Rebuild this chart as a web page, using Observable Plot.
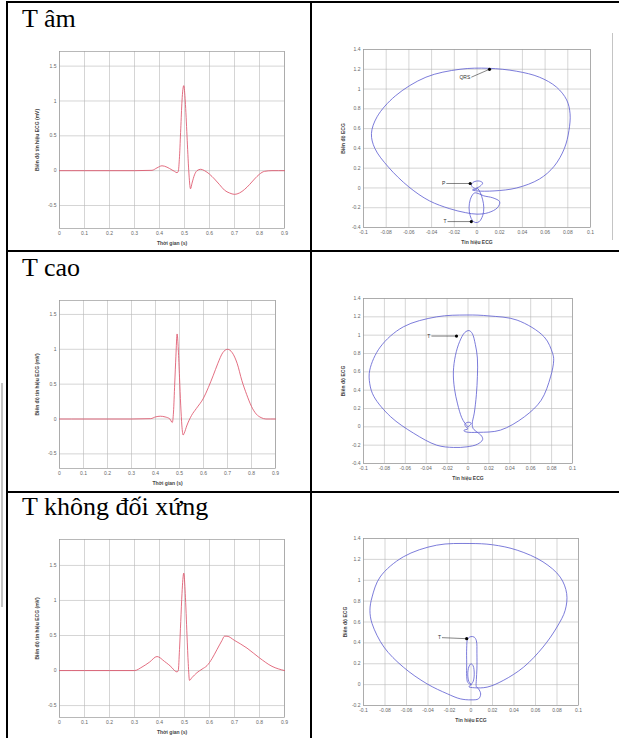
<!DOCTYPE html>
<html><head><meta charset="utf-8">
<script src="https://cdn.jsdelivr.net/npm/d3@7"></script>
<script src="https://cdn.jsdelivr.net/npm/@observablehq/plot@0.6"></script>
<style>
body{margin:0;background:#fff;}
#page{position:relative;width:619px;height:738px;overflow:hidden;background:#fff;}
.ln{position:absolute;background:#000;}
.gl{position:absolute;background:#c4c4c4;}
.lbl{position:absolute;font-family:"Liberation Serif","Times New Roman",serif;font-size:26px;line-height:26px;white-space:nowrap;color:#000;}
.ch{position:absolute;}
.ch svg{overflow:visible;}
.ch [aria-label="x-axis label"] text,.ch [aria-label="y-axis label"] text{font-weight:bold;fill:#444;}
</style></head><body><div id="page"></div>
<script>
// ---- section titles ----
const rowTitles = ["T âm", "T cao", "T không đối xứng"];

// ---- tick labels ----
const timeTicks = [0, 0.1, 0.2, 0.3, 0.4, 0.5, 0.6, 0.7, 0.8, 0.9];
const ecgTicks = [-0.5, 0, 0.5, 1, 1.5];
const slopeTicks = [-0.1, -0.08, -0.06, -0.04, -0.02, 0, 0.02, 0.04, 0.06, 0.08, 0.1];
const ampTicksA = [-0.4, -0.2, 0, 0.2, 0.4, 0.6, 0.8, 1, 1.2, 1.4];
const ampTicksB = [-0.2, 0, 0.2, 0.4, 0.6, 0.8, 1, 1.2, 1.4];

// ---- row 1: T âm (time series) ----
const amTime = [0,0.1,0.2,0.3,0.37,0.39,0.41,0.43,0.45,0.46,0.47,0.475,0.48,0.485,0.49,0.497,0.503,0.51,0.517,0.524,0.53,0.54,0.55,0.565,0.58,0.6,0.62,0.64,0.66,0.68,0.7,0.72,0.74,0.76,0.78,0.8,0.82,0.85,0.9];
const amEcg  = [0,0,0,0,0.005,0.04,0.07,0.05,0.01,-0.01,-0.03,-0.01,0.2,0.6,1.0,1.22,1.0,0.5,0.0,-0.26,-0.18,-0.06,0.0,0.02,0.0,-0.05,-0.12,-0.2,-0.28,-0.32,-0.34,-0.32,-0.27,-0.2,-0.12,-0.05,-0.01,0,0];
// ---- row 1: T âm (phase loop) ----
const amSlope = [0,0.003,0.005,0.002,-0.003,-0.005,-0.003,0,-0.004,0.0,0.015,0.035,0.055,0.068,0.077,0.081,0.082,0.079,0.07,0.055,0.035,0.01,-0.015,-0.045,-0.072,-0.088,-0.093,-0.09,-0.078,-0.06,-0.042,-0.024,-0.01,0.0,0.01,0.018,0.02,0.014,0.006,0.002,-0.002,-0.004,-0.006,-0.007,-0.006,-0.004,-0.001,0.002,0.005,0.006,0.005,0.003,0.001,0];
const amAmp   = [0,0.02,0.05,0.07,0.06,0.03,0.0,-0.01,-0.02,-0.03,-0.03,0.0,0.09,0.22,0.4,0.58,0.75,0.89,1.02,1.12,1.18,1.21,1.2,1.12,0.93,0.72,0.55,0.4,0.21,0.01,-0.13,-0.21,-0.25,-0.265,-0.25,-0.2,-0.14,-0.1,-0.08,-0.06,-0.05,-0.07,-0.12,-0.2,-0.28,-0.33,-0.35,-0.34,-0.28,-0.2,-0.12,-0.05,-0.01,0];
const amNoteLabel = ["QRS", "P", "T"];
const amNoteX = [-0.005, -0.027, -0.026];
const amNoteY = [1.12, 0.045, -0.34];
const amNoteToX = [0.011, -0.006, -0.005];
const amNoteToY = [1.2, 0.045, -0.34];

// ---- row 2: T cao ----
const caoTime = [0,0.1,0.2,0.3,0.38,0.4,0.42,0.44,0.46,0.47,0.475,0.48,0.485,0.49,0.495,0.5,0.505,0.51,0.515,0.52,0.53,0.55,0.57,0.6,0.62,0.64,0.66,0.68,0.7,0.72,0.74,0.76,0.78,0.8,0.82,0.84,0.86,0.9];
const caoEcg  = [0,0,0,0,0.005,0.03,0.04,0.03,0.0,-0.05,0.1,0.5,0.9,1.22,1.0,0.6,0.2,-0.1,-0.23,-0.2,-0.1,0.05,0.15,0.3,0.45,0.62,0.8,0.95,1.0,0.95,0.8,0.55,0.35,0.18,0.07,0.02,0,0];
const caoSlope = [0,0.002,0.003,0.0,-0.003,-0.002,0,-0.004,-0.002,0.01,0.031,0.054,0.07,0.079,0.082,0.081,0.073,0.047,0.02,-0.001,-0.03,-0.062,-0.084,-0.094,-0.094,-0.09,-0.074,-0.052,-0.03,-0.014,-0.001,0.009,0.014,0.013,0.009,0.005,0.004,0.006,0.008,0.009,0.009,0.007,0.004,0.001,-0.003,-0.008,-0.012,-0.014,-0.013,-0.01,-0.006,-0.003,0];
const caoAmp   = [0,0.02,0.04,0.05,0.03,0.0,-0.02,-0.04,-0.055,-0.06,-0.036,0.11,0.29,0.545,0.727,0.8,0.98,1.164,1.21,1.22,1.2,1.09,0.87,0.62,0.47,0.33,0.11,-0.07,-0.2,-0.225,-0.218,-0.19,-0.14,-0.1,-0.06,-0.02,0.03,0.15,0.35,0.55,0.75,0.9,1.02,1.05,1.03,0.93,0.78,0.6,0.42,0.25,0.1,0.04,0];
const caoNoteLabel = ["T"];
const caoNoteX = [-0.035];
const caoNoteY = [0.99];
const caoNoteToX = [-0.011];
const caoNoteToY = [0.99];

// ---- row 3: T không đối xứng ----
const asymTime = [0,0.1,0.2,0.3,0.33,0.36,0.39,0.42,0.45,0.46,0.47,0.475,0.48,0.485,0.49,0.497,0.503,0.51,0.515,0.52,0.53,0.55,0.57,0.59,0.61,0.63,0.65,0.66,0.67,0.7,0.75,0.8,0.85,0.9];
const asymEcg  = [0,0,0,0,0.05,0.12,0.2,0.13,0.04,0.0,-0.02,0.0,0.3,0.7,1.1,1.39,1.1,0.5,0.1,-0.14,-0.1,-0.03,0.02,0.07,0.17,0.3,0.43,0.49,0.49,0.43,0.32,0.18,0.06,0.0];
const asymSlope = [0,0.002,0.003,0.002,0,-0.002,-0.003,-0.002,0,-0.002,0.003,0.015,0.03,0.049,0.067,0.08,0.0876,0.089,0.083,0.067,0.043,0.02,-0.001,-0.032,-0.063,-0.0845,-0.092,-0.094,-0.092,-0.081,-0.063,-0.041,-0.022,-0.01,0.0,0.007,0.009,0.007,0.005,0.005,0.0055,0.0055,0.005,0.003,0,-0.003,-0.004,-0.004,-0.004,-0.003,0];
const asymAmp   = [0,0.03,0.1,0.18,0.2,0.17,0.1,0.03,0.0,-0.02,-0.03,-0.024,0.04,0.168,0.36,0.552,0.712,0.872,1.03,1.176,1.288,1.34,1.352,1.336,1.224,1.032,0.84,0.712,0.584,0.36,0.168,0.008,-0.088,-0.136,-0.146,-0.136,-0.09,-0.04,-0.02,0.05,0.15,0.3,0.42,0.455,0.46,0.44,0.35,0.2,0.08,0.02,0];
const asymNoteLabel = ["T"];
const asymNoteX = [-0.027];
const asymNoteY = [0.45];
const asymNoteToX = [-0.004];
const asymNoteToY = [0.44];

const timeXLabel = "Thời gian (s)";
const timeYLabel = "Biên độ tín hiệu ECG (mV)";
const loopXLabel = "Tín hiệu ECG";
const loopYLabel = "Biên độ ECG";

const page = document.getElementById("page");

function addDiv(cls, css, text) {
  const d = document.createElement("div");
  d.className = cls;
  Object.assign(d.style, css);
  if (text) d.textContent = text;
  page.appendChild(d);
  return d;
}

// table lines
addDiv("ln", {left: "6px", top: "1px", width: "613px", height: "2px"});
addDiv("ln", {left: "6px", top: "1px", width: "2px", height: "737px"});
addDiv("ln", {left: "310px", top: "1px", width: "2px", height: "737px"});
addDiv("ln", {left: "6px", top: "250px", width: "613px", height: "2px"});
addDiv("ln", {left: "6px", top: "491px", width: "613px", height: "2px"});
addDiv("gl", {left: "1px", top: "383px", width: "2px", height: "224px"});
addDiv("gl", {left: "612px", top: "33px", width: "1px", height: "207px"});

// titles
const titleTops = [6, 255, 494];
rowTitles.forEach((t, i) => addDiv("lbl", {left: "22px", top: titleTops[i] + "px"}, t));

const ML = 32, MR = 8, MT = 6, MB = 22;
const baseStyle = {fontSize: "5px", fontFamily: "Liberation Sans, Arial, sans-serif", color: "#666", background: "transparent", overflow: "visible"};

function place(svg, box) {
  const holder = addDiv("ch", {left: (box.x0 - ML) + "px", top: (box.y0 - MT) + "px"});
  holder.appendChild(svg);
}

function timeChart(t, v, yDom, box) {
  const data = t.map((d, i) => ({x: d, y: v[i]}));
  const svg = Plot.plot({
    width: box.x1 - box.x0 + ML + MR,
    height: box.y1 - box.y0 + MT + MB,
    marginLeft: ML, marginRight: MR, marginTop: MT, marginBottom: MB,
    style: baseStyle,
    x: {domain: [0, 0.9]},
    y: {domain: yDom},
    marks: [
      Plot.gridX(timeTicks, {stroke: "#b8b8b8", strokeOpacity: 1, strokeWidth: 0.6}),
      Plot.gridY(ecgTicks, {stroke: "#b8b8b8", strokeOpacity: 1, strokeWidth: 0.6}),
      Plot.frame({stroke: "#9a9a9a", strokeWidth: 0.7}),
      Plot.axisX(timeTicks, {tickSize: 0, tickPadding: 3, tickFormat: d => String(d), label: timeXLabel, labelAnchor: "center", labelOffset: 16, labelArrow: "none"}),
      Plot.axisY(ecgTicks, {tickSize: 0, tickPadding: 3, tickFormat: d => String(d), label: timeYLabel, labelAnchor: "center", labelOffset: 24, labelArrow: "none"}),
      Plot.line(data, {x: "x", y: "y", stroke: "#dc4a62", strokeWidth: 0.8, curve: "monotone-x"})
    ]
  });
  place(svg, box);
}

function loopChart(xs, ys, yDom, yTicks, notes, box, yOff) {
  const data = xs.map((d, i) => ({x: d, y: ys[i]}));
  const nd = notes.label.map((l, i) => ({l, x: notes.x[i], y: notes.y[i], x2: notes.toX[i], y2: notes.toY[i]}));
  const svg = Plot.plot({
    width: box.x1 - box.x0 + ML + MR,
    height: box.y1 - box.y0 + MT + MB,
    marginLeft: ML, marginRight: MR, marginTop: MT, marginBottom: MB,
    style: baseStyle,
    x: {domain: [-0.1, 0.1]},
    y: {domain: yDom},
    marks: [
      Plot.gridX(slopeTicks, {stroke: "#b8b8b8", strokeOpacity: 1, strokeWidth: 0.6}),
      Plot.gridY(yTicks, {stroke: "#b8b8b8", strokeOpacity: 1, strokeWidth: 0.6}),
      Plot.frame({stroke: "#9a9a9a", strokeWidth: 0.7}),
      Plot.axisX(slopeTicks, {tickSize: 0, tickPadding: 3, tickFormat: d => String(d), label: loopXLabel, labelAnchor: "center", labelOffset: 16, labelArrow: "none"}),
      Plot.axisY(yTicks, {tickSize: 0, tickPadding: 3, tickFormat: d => String(d), label: loopYLabel, labelAnchor: "center", labelOffset: yOff, labelArrow: "none"}),
      Plot.line(data, {x: "x", y: "y", stroke: "#5b5bd0", strokeWidth: 0.8, curve: "catmull-rom"}),
      Plot.link(nd, {x1: "x", y1: "y", x2: "x2", y2: "y2", stroke: "#333", strokeWidth: 0.6}),
      Plot.dot(nd, {x: "x2", y: "y2", r: 1.6, fill: "#000"}),
      Plot.text(nd, {x: "x", y: "y", text: "l", textAnchor: "end", dx: -1, fill: "#333", fontSize: 5})
    ]
  });
  place(svg, box);
}

timeChart(amTime, amEcg, [-0.83, 1.71], {x0: 59, x1: 284, y0: 51, y1: 228});
loopChart(amSlope, amAmp, [-0.4, 1.4], ampTicksA,
  {label: amNoteLabel, x: amNoteX, y: amNoteY, toX: amNoteToX, toY: amNoteToY},
  {x0: 363, x1: 590, y0: 49, y1: 227}, 22);

timeChart(caoTime, caoEcg, [-0.71, 1.7], {x0: 59, x1: 275, y0: 300, y1: 468});
loopChart(caoSlope, caoAmp, [-0.4, 1.4], ampTicksA,
  {label: caoNoteLabel, x: caoNoteX, y: caoNoteY, toX: caoNoteToX, toY: caoNoteToY},
  {x0: 363, x1: 572, y0: 298, y1: 463}, 22);

timeChart(asymTime, asymEcg, [-0.67, 1.87], {x0: 59, x1: 284, y0: 539, y1: 717});
loopChart(asymSlope, asymAmp, [-0.2, 1.4], ampTicksB,
  {label: asymNoteLabel, x: asymNoteX, y: asymNoteY, toX: asymNoteToX, toY: asymNoteToY},
  {x0: 363, x1: 578, y0: 538, y1: 705}, 20);
</script>
</body></html>
